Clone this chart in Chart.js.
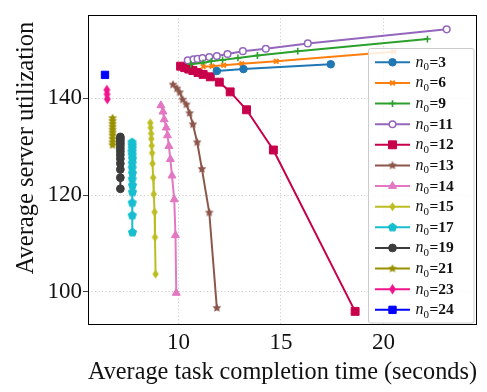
<!DOCTYPE html>
<html>
<head>
<meta charset="utf-8">
<script src="https://cdn.jsdelivr.net/npm/chart.js@4/dist/chart.umd.min.js"></script>
<style>
  html, body { margin: 0; padding: 0; background: #fff; }
  canvas { display: block; }
</style>
</head>
<body>
<canvas id="chart" width="487" height="392"></canvas>
<script>
// Average task completion time (x) vs. average server utilization (y), one curve per n0
const n3X  = [11.87, 13.17, 17.43];
const n3Y  = [145.6, 146.0, 147.0];
const n6X  = [11.2, 11.63, 12.2, 13.09, 14.77, 20.51];
const n6Y  = [146.5, 146.6, 146.8, 147.1, 147.6, 149.6];
const n9X  = [10.6, 11.2, 11.6, 12.15, 12.9, 13.85, 15.82, 22.15];
const n9Y  = [147.0, 147.3, 147.6, 147.9, 148.3, 148.8, 149.7, 152.2];
const n11X = [10.45, 10.73, 10.93, 11.17, 11.5, 11.87, 12.39, 13.14, 14.26, 16.31, 23.09];
const n11Y = [147.8, 148.0, 148.1, 148.3, 148.5, 148.7, 149.1, 149.7, 150.2, 151.3, 154.2];
const n12X = [10.1, 10.3, 10.5, 10.7, 10.95, 11.2, 11.55, 11.99, 12.52, 13.32, 14.63, 18.62];
const n12Y = [146.6, 146.3, 146.0, 145.7, 145.3, 144.9, 144.4, 143.3, 141.3, 137.6, 129.3, 96.0];
const n13X = [9.73, 9.92, 10.05, 10.2, 10.38, 10.54, 10.7, 10.91, 11.14, 11.5, 11.87];
const n13Y = [142.8, 142.0, 141.2, 139.7, 138.7, 136.9, 134.6, 130.9, 125.4, 116.4, 96.7];
const n14X = [9.14, 9.24, 9.30, 9.40, 9.46, 9.53, 9.60, 9.68, 9.79, 9.85, 9.89];
const n14Y = [138.5, 137.2, 135.6, 133.9, 132.3, 130.1, 127.4, 124.0, 119.1, 111.7, 99.8];
const n15X = [8.62, 8.64, 8.66, 8.67, 8.69, 8.71, 8.73, 8.76, 8.79, 8.83, 8.85, 8.88];
const n15Y = [134.9, 133.9, 132.7, 131.6, 130.2, 128.7, 126.5, 123.6, 120.2, 116.5, 111.3, 103.7];
const n17X = [7.73, 7.74, 7.74, 7.73, 7.74, 7.75, 7.74, 7.74, 7.75, 7.74, 7.75, 7.75, 7.74, 7.74, 7.75];
const n17Y = [130.9, 130.3, 129.7, 129.0, 128.3, 127.5, 126.6, 125.6, 124.5, 123.3, 122.0, 120.6, 118.4, 115.8, 112.3];
const n19X = [7.16, 7.16, 7.16, 7.16, 7.16, 7.16, 7.16, 7.16, 7.16, 7.16, 7.16, 7.16, 7.16];
const n19Y = [132.0, 131.6, 131.2, 130.7, 130.2, 129.6, 129.0, 128.3, 127.5, 126.5, 125.3, 123.6, 121.3];
const n21X = [6.78, 6.78, 6.78, 6.78, 6.78, 6.78, 6.78, 6.78, 6.78, 6.78];
const n21Y = [135.9, 135.3, 134.7, 134.1, 133.5, 132.9, 132.3, 131.6, 130.9, 130.3];
const n23X = [6.50, 6.51, 6.52];
const n23Y = [141.7, 140.8, 139.8];
const n24X = [6.41];
const n24Y = [144.8];

const n0Values = [3, 6, 9, 11, 12, 13, 14, 15, 17, 19, 21, 23, 24];
const xTickValues = [10, 15, 20];
const yTickValues = [100, 120, 140];
const yTitle = 'Average server utilization';

const SERIF = '"Liberation Serif", "DejaVu Serif", serif';

// Filled marker shapes Chart.js lacks, drawn once onto small canvases
function shapeCanvas(color, w, h, path) {
  const c = document.createElement('canvas');
  c.width = w; c.height = h;
  const g = c.getContext('2d');
  g.fillStyle = color;
  g.beginPath();
  path(g, w / 2, h / 2);
  g.closePath();
  g.fill();
  return c;
}
function polygon(n, r, rot) {
  return (g, cx, cy) => {
    for (let i = 0; i < n; i++) {
      const a = rot + i * 2 * Math.PI / n;
      const px = cx + r * Math.cos(a), py = cy + r * Math.sin(a);
      i ? g.lineTo(px, py) : g.moveTo(px, py);
    }
  };
}
function star(ro, ri) {
  return (g, cx, cy) => {
    for (let i = 0; i < 10; i++) {
      const r = i % 2 ? ri : ro;
      const a = -Math.PI / 2 + i * Math.PI / 5;
      const px = cx + r * Math.cos(a), py = cy + r * Math.sin(a);
      i ? g.lineTo(px, py) : g.moveTo(px, py);
    }
  };
}
function thinDiamond(hw, hh) {
  return (g, cx, cy) => {
    g.moveTo(cx, cy - hh); g.lineTo(cx + hw, cy); g.lineTo(cx, cy + hh); g.lineTo(cx - hw, cy);
  };
}

const styles = [
  { color: '#1f77b4', pointStyle: 'circle', radius: 3.8 },
  { color: '#ff7f0e', pointStyle: 'crossRot', radius: 3.2, borderWidth: 2 },
  { color: '#2ca02c', pointStyle: 'cross', radius: 3.4, borderWidth: 1.6 },
  { color: '#9467bd', pointStyle: 'circle', radius: 3.3, fill: '#ffffff', borderWidth: 1.5 },
  { color: '#c8004b', pointStyle: 'rect', radius: 5.6 },
  { color: '#8c564b', pointStyle: shapeCanvas('#8c564b', 10, 10, star(4.6, 2.3)) },
  { color: '#e377c2', pointStyle: 'triangle', radius: 4.6 },
  { color: '#bcbd22', pointStyle: shapeCanvas('#bcbd22', 9, 11, thinDiamond(3.2, 4.6)) },
  { color: '#17becf', pointStyle: shapeCanvas('#17becf', 11, 11, polygon(5, 4.8, -Math.PI / 2)) },
  { color: '#3c3c3c', pointStyle: 'circle', radius: 3.9 },
  { color: '#9a9000', pointStyle: shapeCanvas('#9a9000', 10, 10, star(4.6, 2.3)) },
  { color: '#f0148c', pointStyle: shapeCanvas('#f0148c', 9, 12, thinDiamond(3.4, 5.2)) },
  { color: '#0000ff', pointStyle: 'rect', radius: 5.2 }
];

const xs = [n3X, n6X, n9X, n11X, n12X, n13X, n14X, n15X, n17X, n19X, n21X, n23X, n24X];
const ys = [n3Y, n6Y, n9Y, n11Y, n12Y, n13Y, n14Y, n15Y, n17Y, n19Y, n21Y, n23Y, n24Y];

const datasets = n0Values.map((n0, i) => {
  const s = styles[i];
  return {
    label: 'n0=' + n0,
    n0: n0,
    data: xs[i].map((x, k) => ({ x: x, y: ys[i][k] })),
    showLine: true,
    borderColor: s.color,
    borderWidth: 2,
    pointStyle: s.pointStyle,
    pointRadius: s.radius || 4,
    pointBorderWidth: s.borderWidth || 1,
    pointBackgroundColor: s.fill || s.color,
    pointBorderColor: s.color,
    tension: 0
  };
});

// Full box around the plot, the vertical axis title (sits a little above centre)
const framePlugin = {
  id: 'frame',
  afterDatasetsDraw(chart) {
    const { ctx, chartArea: a } = chart;
    ctx.save();
    ctx.strokeStyle = '#000';
    ctx.lineWidth = 1;
    ctx.strokeRect(Math.round(a.left) + 0.5, Math.round(a.top) + 0.5,
                   Math.round(a.right - a.left) - 1, Math.round(a.bottom - a.top) - 1);
    ctx.translate(27, 148);
    ctx.rotate(-Math.PI / 2);
    ctx.fillStyle = '#111';
    ctx.font = '24.5px ' + SERIF;
    ctx.textAlign = 'center';
    ctx.textBaseline = 'middle';
    ctx.fillText(yTitle, 0, 0);
    ctx.restore();
  }
};

// In-plot legend with LaTeX-like n0 labels
const legendPlugin = {
  id: 'n0Legend',
  afterDraw(chart) {
    const ctx = chart.ctx;
    const bx = 368.5, by = 48.5, bw = 105.5, bh = 274.5;
    const rowY0 = 62.3, rowStep = 20.63;
    ctx.save();
    ctx.fillStyle = 'rgba(255,255,255,0.85)';
    ctx.strokeStyle = '#cccccc';
    ctx.lineWidth = 1;
    ctx.beginPath();
    ctx.roundRect(bx, by, bw, bh, 2);
    ctx.fill();
    ctx.stroke();
    chart.data.datasets.forEach((ds, i) => {
      const y = rowY0 + i * rowStep;
      ctx.strokeStyle = ds.borderColor;
      ctx.lineWidth = 2;
      ctx.beginPath();
      ctx.moveTo(375, y);
      ctx.lineTo(410, y);
      ctx.stroke();
      ctx.fillStyle = ds.pointBackgroundColor;
      ctx.strokeStyle = ds.pointBorderColor;
      ctx.lineWidth = ds.pointBorderWidth;
      Chart.helpers.drawPoint(ctx, {
        pointStyle: ds.pointStyle, radius: ds.pointRadius, rotation: 0,
        borderWidth: ds.pointBorderWidth
      }, 392.5, y);
      ctx.fillStyle = '#111';
      ctx.textBaseline = 'alphabetic';
      const base = y + 4.5;
      let tx = 415.5;
      ctx.font = 'italic 16px ' + SERIF;
      ctx.fillText('n', tx, base);
      tx += ctx.measureText('n').width;
      ctx.font = '11px ' + SERIF;
      ctx.fillText('0', tx, base + 3.5);
      tx += ctx.measureText('0').width + 0.5;
      ctx.font = 'bold 15.5px ' + SERIF;
      ctx.fillText('=' + ds.n0, tx, base);
    });
    ctx.restore();
  }
};

new Chart(document.getElementById('chart'), {
  type: 'line',
  data: { datasets: datasets },
  options: {
    responsive: false,
    animation: false,
    devicePixelRatio: 1,
    layout: { padding: { top: 3, right: 10, left: 0, bottom: 0 } },
    plugins: { legend: { display: false }, tooltip: { enabled: false } },
    scales: {
      x: {
        type: 'linear',
        min: 5.58, max: 24.57,
        afterBuildTicks: s => { s.ticks = xTickValues.map(v => ({ value: v })); },
        afterFit: s => { s.height = 67; },
        grid: { color: '#c4c4c4', lineWidth: 1, drawTicks: false },
        border: { display: false, dash: [1, 2.5] },
        ticks: { color: '#111', padding: 4, font: { family: SERIF, size: 23 } },
        title: {
          display: true, text: 'Average task completion time (seconds)', color: '#111',
          font: { family: SERIF, size: 24.5 }, padding: { top: 0, bottom: 5 }
        }
      },
      y: {
        type: 'linear',
        min: 93.19, max: 157.2,
        afterBuildTicks: s => { s.ticks = yTickValues.map(v => ({ value: v })); },
        afterFit: s => { s.width = 88; },
        grid: { color: '#c4c4c4', lineWidth: 1, drawTicks: true, tickLength: 5, tickColor: '#444', tickBorderDash: [] },
        border: { display: false, dash: [1, 2.5] },
        ticks: { color: '#111', padding: 1, font: { family: SERIF, size: 23 } },
        title: { display: false }
      }
    }
  },
  plugins: [framePlugin, legendPlugin]
});
</script>
</body>
</html>
